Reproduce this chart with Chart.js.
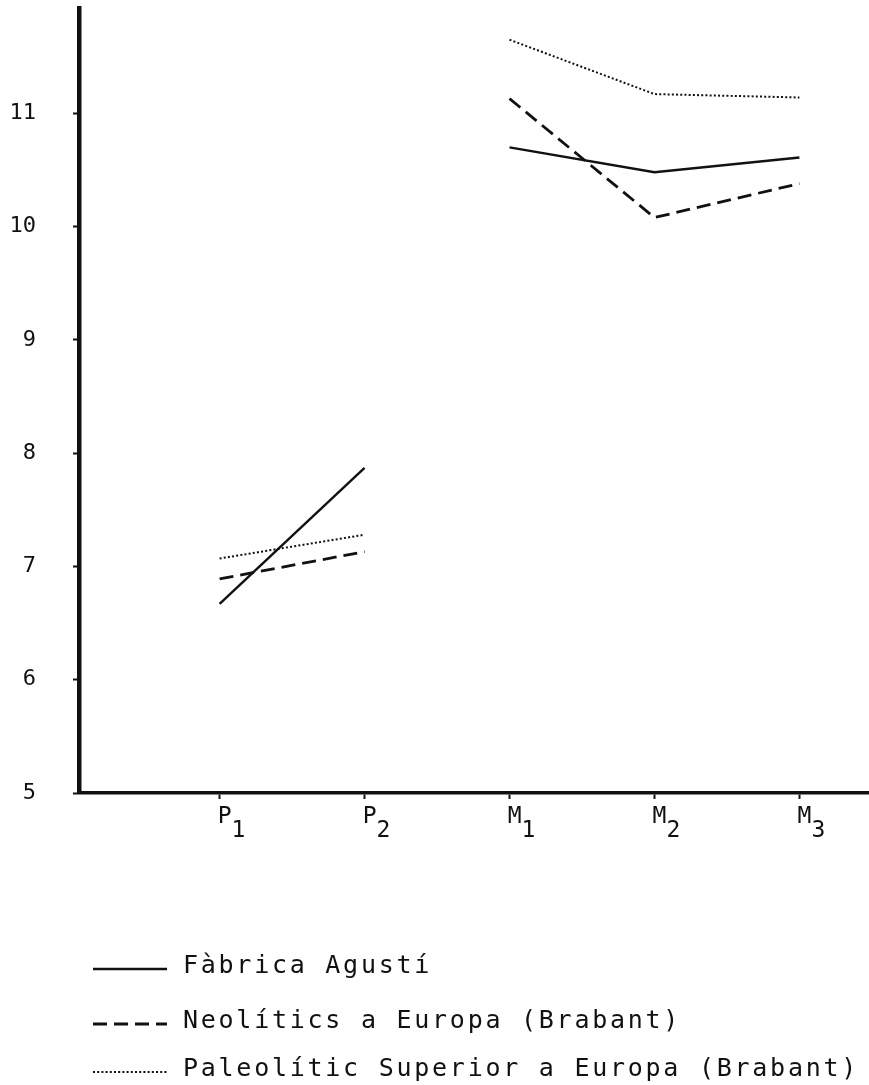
<!DOCTYPE html>
<html>
<head>
<meta charset="utf-8">
<script src="https://cdn.jsdelivr.net/npm/chart.js@4/dist/chart.umd.min.js"></script>
<style>
  html, body { margin: 0; padding: 0; background: #fff; }
  #wrap { width: 869px; height: 1085px; position: relative; }
</style>
</head>
<body>
<div id="wrap"><canvas id="c"></canvas></div>
<script>
// ---- data ----
const categories = ['P1', 'P2', 'M1', 'M2', 'M3'];
const fabricaAgusti = [6.67, 7.87, 10.70, 10.48, 10.61];
const neoliticsEuropa = [6.89, 7.13, 11.13, 10.08, 10.38];
const paleoliticEuropa = [7.07, 7.28, 11.65, 11.17, 11.14];
const yTickValues = [5, 6, 7, 8, 9, 10, 11];
const seriesLabels = ['Fàbrica Agustí', 'Neolítics a Europa (Brabant)', 'Paleolític Superior a Europa (Brabant)'];

const FONT = "'DejaVu Sans Mono', 'Liberation Mono', monospace";

function toPoints(arr) { return arr.map((v, i) => ({ x: i + 1, y: v })); }
// no line between the premolar group and the molar group
const gapSegment = { borderColor: ctx => (categories[ctx.p0DataIndex][0] !== categories[ctx.p1DataIndex][0]) ? 'rgba(0,0,0,0)' : '#111' };

const legendPlugin = {
  id: 'vlegend',
  afterDraw(chart) {
    const ctx = chart.ctx;
    const rows = [966, 1021, 1069];
    ctx.save();
    ctx.font = '25px ' + FONT;
    // spread letters so the longest entry spans the same width as in the original
    const longest = chart.data.datasets.reduce((a, d) => d.label.length > a.length ? d.label : a, '');
    const w0 = ctx.measureText(longest).width;
    const ls = Math.max(0, (676 - w0) / longest.length);
    chart.data.datasets.forEach((ds, i) => {
      const y = rows[i];
      ctx.beginPath();
      ctx.strokeStyle = '#111';
      ctx.lineWidth = ds.borderWidth;
      ctx.setLineDash(ds.borderDash || []);
      ctx.moveTo(93, y + 3);
      ctx.lineTo(167, y + 3);
      ctx.stroke();
      ctx.setLineDash([]);
      ctx.fillStyle = '#111';
      ctx.font = '25px ' + FONT;
      try { ctx.letterSpacing = ls.toFixed(2) + 'px'; } catch (e) {}
      ctx.textBaseline = 'middle';
      ctx.textAlign = 'left';
      ctx.fillText(ds.label, 183, y);
    });
    ctx.restore();
  }
};

new Chart(document.getElementById('c'), {
  type: 'line',
  data: {
    datasets: [
      { label: seriesLabels[0], data: toPoints(fabricaAgusti), borderColor: '#111', borderWidth: 2.4, borderDash: [], pointRadius: 0, segment: gapSegment, tension: 0 },
      { label: seriesLabels[1], data: toPoints(neoliticsEuropa), borderColor: '#111', borderWidth: 2.8, borderDash: [14, 7], pointRadius: 0, segment: gapSegment, tension: 0 },
      { label: seriesLabels[2], data: toPoints(paleoliticEuropa), borderColor: '#111', borderWidth: 2, borderDash: [2, 2.2], pointRadius: 0, segment: gapSegment, tension: 0 }
    ]
  },
  options: {
    responsive: true,
    maintainAspectRatio: false,
    animation: false,
    devicePixelRatio: 1,
    layout: { padding: { top: 8, right: 0, bottom: 242, left: 0 } },
    plugins: { legend: { display: false }, tooltip: { enabled: false } },
    scales: {
      x: {
        type: 'linear',
        min: 0.03,
        max: 5.48,
        afterFit: s => { s.height = 50; s.paddingLeft = 0; s.paddingRight = 0; },
        afterBuildTicks: s => { s.ticks = categories.map((c, i) => ({ value: i + 1 })); },
        ticks: {
          includeBounds: false,
          stepSize: 1,
          autoSkip: false,
          maxRotation: 0,
          padding: 11,
          labelOffset: 12,
          color: '#111',
          font: { family: FONT, size: 23, lineHeight: 0.6 },
          callback: v => {
            const c = categories[v - 1];
            return c ? [c[0] + ' ', ' ' + c.slice(1)] : '';
          }
        },
        grid: { drawOnChartArea: false, drawTicks: true, tickLength: 6, tickWidth: 2, color: '#111' },
        border: { display: true, width: 3.5, color: '#111' }
      },
      y: {
        type: 'linear',
        min: 5,
        max: 11.93,
        afterFit: s => { s.width = 79; s.paddingTop = 0; s.paddingBottom = 0; },
        afterBuildTicks: s => { s.ticks = yTickValues.map(v => ({ value: v })); },
        ticks: {
          includeBounds: false,
          stepSize: 1,
          padding: 37,
          color: '#111',
          font: { family: FONT, size: 22 },
          callback: v => String(v)
        },
        grid: { drawOnChartArea: false, drawTicks: true, tickLength: 6, tickWidth: 2, color: '#111' },
        border: { display: true, width: 4.5, color: '#111' }
      }
    }
  },
  plugins: [legendPlugin]
});
</script>
</body>
</html>
